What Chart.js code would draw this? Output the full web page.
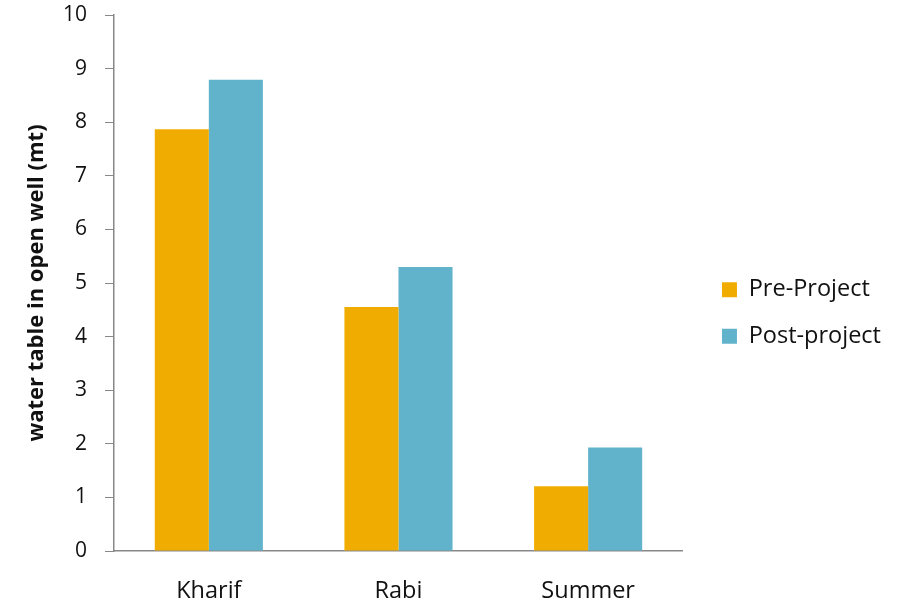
<!DOCTYPE html>
<html>
<head>
<meta charset="utf-8">
<script src="https://cdn.jsdelivr.net/npm/chart.js@4.4.1/dist/chart.umd.min.js"></script>
<style>
  html, body { margin: 0; padding: 0; background: #fff; }
  #wrap { width: 905px; height: 607px; }
</style>
</head>
<body>
<div id="wrap"><canvas id="waterChart" width="905" height="607"></canvas></div>
<script>
const seasons = ["Kharif", "Rabi", "Summer"];
const preProject = [7.87, 4.55, 1.21];
const postProject = [8.79, 5.30, 1.93];
const yTicks = [0, 1, 2, 3, 4, 5, 6, 7, 8, 9, 10];

const fontFamily = "'Open Sans', sans-serif";

// nudge the legend so it sits a bit further from the plot, like the original
const legendNudge = {
  id: "legendNudge",
  afterUpdate(chart) {
    const lg = chart.legend;
    if (!lg) return;
    const dx = chart.chartArea.right + 16 - lg.left;
    const dy = 2;
    lg.left += dx;
    lg.right += dx;
    lg.top += dy;
    lg.bottom += dy;
  },
};

new Chart(document.getElementById("waterChart"), {
  type: "bar",
  data: {
    labels: seasons,
    datasets: [
      {
        label: "Pre-Project",
        data: preProject,
        backgroundColor: "#F0AC00",
        categoryPercentage: 0.57,
        barPercentage: 1.0,
      },
      {
        label: "Post-project",
        data: postProject,
        backgroundColor: "#60B3CB",
        categoryPercentage: 0.57,
        barPercentage: 1.0,
      },
    ],
  },
  options: {
    responsive: false,
    animation: false,
    layout: { padding: { top: 15, left: 10, right: 30, bottom: 0 } },
    plugins: {
      tooltip: { enabled: false },
      legend: {
        position: "right",
        labels: {
          font: { family: fontFamily, size: 23.5 },
          color: "#111",
          boxWidth: 15,
          boxHeight: 15,
          padding: 23,
        },
      },
    },
    scales: {
      x: {
        grid: { display: false, drawTicks: false },
        border: { color: "#888", width: 1.5 },
        ticks: {
          font: { family: fontFamily, size: 23.5 },
          color: "#111",
          padding: 26,
        },
        afterFit: (scale) => {
          scale.height = 56;
          scale.paddingLeft = 0;
          scale.paddingRight = 0;
        },
      },
      y: {
        min: 0,
        max: 10,
        afterBuildTicks: (axis) => {
          axis.ticks = yTicks.map((v) => ({ value: v }));
        },
        afterFit: (scale) => {
          scale.width = 104;
          scale.paddingTop = 0;
          scale.paddingBottom = 0;
        },
        grid: {
          drawOnChartArea: false,
          drawTicks: true,
          tickLength: 9,
          color: "#888",
        },
        border: { color: "#888", width: 1.5 },
        ticks: {
          font: { family: fontFamily, size: 21 },
          color: "#111",
          padding: 18,
        },
        title: {
          display: true,
          text: "water table in open well (mt)",
          font: { family: fontFamily, size: 22, weight: "bold" },
          color: "#111",
          padding: { top: 14, bottom: 0 },
        },
      },
    },
  },
  plugins: [legendNudge],
});
</script>
</body>
</html>
